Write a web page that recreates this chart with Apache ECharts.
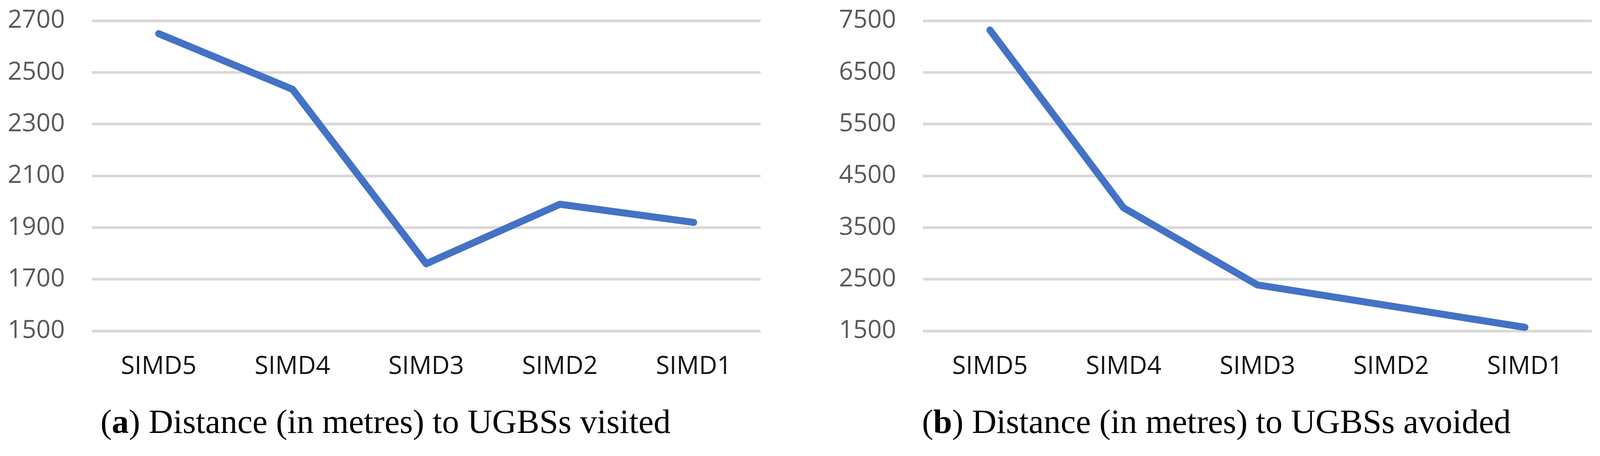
<!DOCTYPE html>
<html>
<head>
<meta charset="utf-8">
<script src="https://cdn.jsdelivr.net/npm/echarts@6/dist/echarts.min.js"></script>
<style>
html,body{margin:0;padding:0;background:#fff;overflow:hidden;}
#c{width:100vw;height:1167px;}
</style>
</head>
<body>
<div id="c"></div>
<script>
const categories = ['SIMD5', 'SIMD4', 'SIMD3', 'SIMD2', 'SIMD1'];
const visited = [2650, 2435, 1760, 1990, 1920];
const avoided = [7320, 3880, 2390, 1980, 1570];
const visitedTicks = {min: 1500, max: 2700, interval: 200};
const avoidedTicks = {min: 1500, max: 7500, interval: 1000};
const captionA = 'Distance (in metres) to UGBSs visited';
const captionB = 'Distance (in metres) to UGBSs avoided';

const chart = echarts.init(document.getElementById('c'), null, {renderer: 'canvas'});
const W = chart.getWidth();
const sx = W / 4193;
const sansFont = 'Open Sans';
const serifFont = 'Liberation Serif';
const labelSize = Math.round(66 * sx);
const capSize = Math.round(89 * sx);

function xAxis(idx) {
  return {
    type: 'category', gridIndex: idx, data: categories, boundaryGap: true,
    axisLine: {show: false}, axisTick: {show: false},
    axisLabel: {margin: 60, fontFamily: sansFont, fontSize: labelSize, color: '#111'}
  };
}
function yAxis(idx, t) {
  return {
    type: 'value', gridIndex: idx, min: t.min, max: t.max, interval: t.interval,
    axisLine: {show: false}, axisTick: {show: false},
    axisLabel: {margin: Math.round(71 * sx), fontFamily: sansFont, fontSize: labelSize, color: '#595959',
      formatter: function (v) { return String(v); }},
    splitLine: {show: true, lineStyle: {color: '#d9d9d9', width: 7}}
  };
}
function series(idx, data) {
  return {
    type: 'line', xAxisIndex: idx, yAxisIndex: idx, data: data,
    showSymbol: false, symbol: 'none', animation: false,
    lineStyle: {color: '#4472C4', width: 18, cap: 'round', join: 'round'}
  };
}
function caption(letter, text, cx) {
  return {
    text: '({b|' + letter + '}) ' + text,
    left: Math.round(cx * sx), top: 1042, textAlign: 'center', padding: 0,
    textStyle: {
      fontFamily: serifFont, fontSize: capSize, fontWeight: 'normal', color: '#000',
      rich: {b: {fontFamily: serifFont, fontSize: capSize, fontWeight: 'bold', color: '#000'}}
    }
  };
}

chart.setOption({
  animation: false,
  backgroundColor: '#fff',
  title: [caption('a', captionA, 1010), caption('b', captionB, 3188)],
  grid: [
    {left: Math.round(241 * sx), width: Math.round(1753 * sx), top: 53, height: 794, containLabel: false},
    {left: Math.round(2419 * sx), width: Math.round(1753 * sx), top: 53, height: 794, containLabel: false}
  ],
  xAxis: [xAxis(0), xAxis(1)],
  yAxis: [yAxis(0, visitedTicks), yAxis(1, avoidedTicks)],
  series: [series(0, visited), series(1, avoided)]
});
</script>
</body>
</html>
